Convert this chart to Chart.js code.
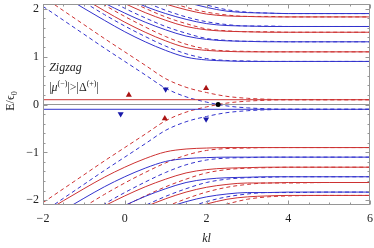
<!DOCTYPE html><html><head><meta charset="utf-8">
<script src="https://cdn.jsdelivr.net/npm/chart.js@4/dist/chart.umd.min.js"></script>
<style>html,body{margin:0;padding:0;background:#fff}canvas{display:block}</style>
</head><body><canvas id="c" width="374" height="248"></canvas>
<script>
// kl sample points shared by every branch
const kl=[-2,-1.5,-1,-0.5,0,0.5,1,1.5,2,2.5,3,3.5,4,5,6];
// upper (E>0) branches, red = spin up, blue = spin down
const upD0Red =[2.25,1.96,1.67,1.38,1.10,0.82,0.54,0.36,0.25,0.17,0.13,0.11,0.10,0.10,0.10];
const upD0Blue=[2.05,1.76,1.47,1.18,0.90,0.62,0.34,0.16,0.05,-0.03,-0.07,-0.09,-0.10,-0.10,-0.10];
const upS1Red =[2.74,2.47,2.21,1.96,1.72,1.51,1.33,1.19,1.13,1.11,1.10,1.10,1.10,1.10,1.10];
const upS1Blue=[2.54,2.27,2.01,1.76,1.52,1.31,1.13,0.99,0.93,0.91,0.90,0.90,0.90,0.90,0.90];
const upD1Red =[2.87,2.60,2.34,2.08,1.84,1.62,1.42,1.26,1.16,1.12,1.11,1.10,1.10,1.10,1.10];
const upD1Blue=[2.67,2.40,2.14,1.88,1.64,1.42,1.22,1.06,0.96,0.92,0.91,0.90,0.90,0.90,0.90];
const upS2Red =[3.04,2.79,2.55,2.32,2.11,1.92,1.76,1.63,1.56,1.53,1.52,1.51,1.51,1.51,1.51];
const upS2Blue=[2.84,2.59,2.35,2.12,1.91,1.72,1.56,1.43,1.36,1.33,1.32,1.31,1.31,1.31,1.31];
const upD2Red =[3.17,2.92,2.67,2.44,2.21,2.01,1.83,1.69,1.58,1.54,1.52,1.52,1.51,1.51,1.51];
const upD2Blue=[2.97,2.72,2.47,2.24,2.01,1.81,1.63,1.49,1.38,1.34,1.32,1.32,1.31,1.31,1.31];
const upS3Red =[3.33,3.09,2.86,2.64,2.44,2.25,2.10,1.98,1.89,1.85,1.84,1.83,1.83,1.83,1.83];
const upS3Blue=[3.13,2.89,2.66,2.44,2.24,2.05,1.90,1.78,1.69,1.65,1.64,1.63,1.63,1.63,1.63];
const upD3Red =[3.46,3.21,2.97,2.75,2.53,2.34,2.17,2.03,1.93,1.87,1.84,1.84,1.83,1.83,1.83];
const upD3Blue=[3.26,3.01,2.77,2.55,2.33,2.14,1.97,1.83,1.73,1.67,1.64,1.64,1.63,1.63,1.63];
const upS4Red =[3.72,3.48,3.25,3.04,2.83,2.64,2.48,2.34,2.23,2.15,2.12,2.11,2.10,2.10,2.10];
const upS4Blue=[3.52,3.28,3.05,2.84,2.63,2.44,2.28,2.14,2.03,1.95,1.92,1.91,1.90,1.90,1.90];
const upD4Red =[3.85,3.61,3.37,3.14,2.93,2.73,2.55,2.40,2.28,2.18,2.13,2.11,2.10,2.10,2.10];
const upD4Blue=[3.65,3.41,3.17,2.94,2.73,2.53,2.35,2.20,2.08,1.98,1.93,1.91,1.90,1.90,1.90];
// lower (E<0) branches
const loD0Red =[-2.05,-1.76,-1.47,-1.18,-0.90,-0.62,-0.34,-0.16,-0.05,0.03,0.07,0.09,0.10,0.10,0.10];
const loD0Blue=[-2.25,-1.96,-1.67,-1.38,-1.10,-0.82,-0.54,-0.36,-0.25,-0.17,-0.13,-0.11,-0.10,-0.10,-0.10];
const loS1Red =[-2.27,-2.01,-1.76,-1.52,-1.31,-1.13,-0.99,-0.93,-0.91,-0.90,-0.90,-0.90,-0.90,-0.90,-0.90];
const loS1Blue=[-2.47,-2.21,-1.96,-1.72,-1.51,-1.33,-1.19,-1.13,-1.11,-1.10,-1.10,-1.10,-1.10,-1.10,-1.10];
const loD1Red =[-2.67,-2.40,-2.14,-1.88,-1.64,-1.42,-1.22,-1.06,-0.96,-0.92,-0.91,-0.90,-0.90,-0.90,-0.90];
const loD1Blue=[-2.87,-2.60,-2.34,-2.08,-1.84,-1.62,-1.42,-1.26,-1.16,-1.12,-1.11,-1.10,-1.10,-1.10,-1.10];
const loS2Red =[-2.84,-2.59,-2.35,-2.12,-1.91,-1.72,-1.56,-1.43,-1.36,-1.33,-1.32,-1.31,-1.31,-1.31,-1.31];
const loS2Blue=[-3.04,-2.79,-2.55,-2.32,-2.11,-1.92,-1.76,-1.63,-1.56,-1.53,-1.52,-1.51,-1.51,-1.51,-1.51];
const loD2Red =[-3.11,-2.84,-2.59,-2.35,-2.12,-1.91,-1.72,-1.56,-1.43,-1.36,-1.33,-1.32,-1.31,-1.31,-1.31];
const loD2Blue=[-3.31,-3.04,-2.79,-2.55,-2.32,-2.11,-1.92,-1.76,-1.63,-1.56,-1.53,-1.52,-1.51,-1.51,-1.51];
const loS3Red =[-3.26,-3.01,-2.77,-2.55,-2.33,-2.14,-1.97,-1.83,-1.73,-1.67,-1.64,-1.64,-1.63,-1.63,-1.63];
const loS3Blue=[-3.46,-3.21,-2.97,-2.75,-2.53,-2.34,-2.17,-2.03,-1.93,-1.87,-1.84,-1.84,-1.83,-1.83,-1.83];
const loD3Red =[-3.51,-3.26,-3.01,-2.77,-2.55,-2.33,-2.14,-1.97,-1.83,-1.73,-1.67,-1.64,-1.64,-1.63,-1.63];
const loD3Blue=[-3.71,-3.46,-3.21,-2.97,-2.75,-2.53,-2.34,-2.17,-2.03,-1.93,-1.87,-1.84,-1.84,-1.83,-1.83];
const loS4Red =[-3.65,-3.41,-3.17,-2.94,-2.73,-2.53,-2.35,-2.20,-2.08,-1.98,-1.93,-1.91,-1.90,-1.90,-1.90];
const loS4Blue=[-3.85,-3.61,-3.37,-3.14,-2.93,-2.73,-2.55,-2.40,-2.28,-2.18,-2.13,-2.11,-2.10,-2.10,-2.10];
const loD4Red =[-3.90,-3.65,-3.41,-3.17,-2.94,-2.73,-2.53,-2.35,-2.20,-2.08,-1.98,-1.93,-1.91,-1.90,-1.90];
const loD4Blue=[-4.10,-3.85,-3.61,-3.37,-3.14,-2.93,-2.73,-2.55,-2.40,-2.28,-2.18,-2.13,-2.11,-2.10,-2.10];
// flat zero-energy modes and the E=0 axis
const flatK=[-2,6];
const flatRed=[0.1,0.1], flatBlue=[-0.1,-0.1], zeroLine=[0,0];
// spin arrows and crossing point
const upArrowK=[0.1,1.99,0.98], upArrowE=[0.2,0.34,-0.29];
const dnArrowK=[-0.1,1.0,1.99], dnArrowE=[-0.2,0.32,-0.31];
const dotK=[2.285], dotE=[0];
const yTicks=[-2,-1,0,1,2], xTicks=[-2,0,2,4,6];

const RED='rgb(205,50,50)',BLUE='rgb(50,50,205)';
const curves=[
 [upD0Red,RED,1],[upD0Blue,BLUE,1],[upS1Red,RED,0],[upS1Blue,BLUE,0],[upD1Red,RED,1],[upD1Blue,BLUE,1],
 [upS2Red,RED,0],[upS2Blue,BLUE,0],[upD2Red,RED,1],[upD2Blue,BLUE,1],[upS3Red,RED,0],[upS3Blue,BLUE,0],
 [upD3Red,RED,1],[upD3Blue,BLUE,1],[upS4Red,RED,0],[upS4Blue,BLUE,0],[upD4Red,RED,1],[upD4Blue,BLUE,1],
 [loD0Red,RED,1],[loD0Blue,BLUE,1],[loS1Red,RED,0],[loS1Blue,BLUE,0],[loD1Red,RED,1],[loD1Blue,BLUE,1],
 [loS2Red,RED,0],[loS2Blue,BLUE,0],[loD2Red,RED,1],[loD2Blue,BLUE,1],[loS3Red,RED,0],[loS3Blue,BLUE,0],
 [loD3Red,RED,1],[loD3Blue,BLUE,1],[loS4Red,RED,0],[loS4Blue,BLUE,0],[loD4Red,RED,1],[loD4Blue,BLUE,1]];
// Chart.js paints dataset 0 last (on top): markers first, axis line last
const ds=[];
ds.push({type:'scatter',data:dotK.map((k,i)=>({x:k,y:dotE[i]})),pointStyle:'circle',pointRadius:2.5,backgroundColor:'#000',borderColor:'#000',borderWidth:0,showLine:false});
ds.push({type:'scatter',data:upArrowK.map((k,i)=>({x:k,y:upArrowE[i]})),pointStyle:'triangle',pointRadius:3.5,backgroundColor:'rgb(170,20,20)',borderColor:'rgb(170,20,20)',borderWidth:0,showLine:false});
ds.push({type:'scatter',data:dnArrowK.map((k,i)=>({x:k,y:dnArrowE[i]})),pointStyle:'triangle',rotation:180,pointRadius:3.5,backgroundColor:'rgb(25,25,170)',borderColor:'rgb(25,25,170)',borderWidth:0,showLine:false});
ds.push({data:flatK.map((k,i)=>({x:k,y:flatRed[i]})),borderColor:RED,borderWidth:1,pointRadius:0});
ds.push({data:flatK.map((k,i)=>({x:k,y:flatBlue[i]})),borderColor:BLUE,borderWidth:1,pointRadius:0});
curves.forEach(c=>ds.push({data:kl.map((k,i)=>({x:k,y:c[0][i]})),borderColor:c[1],borderWidth:1,borderDash:c[2]?[4,3]:[],pointRadius:0,fill:false,cubicInterpolationMode:'monotone'}));
ds.push({data:flatK.map((k,i)=>({x:k,y:zeroLine[i]})),borderColor:'rgb(150,150,150)',borderWidth:1,pointRadius:0});

const SERIF="'Liberation Serif','DejaVu Serif',serif";
const framePlugin={id:'frame',afterDatasetsDraw(chart){
  const {ctx,chartArea:a,scales:{x,y}}=chart;ctx.save();
  ctx.strokeStyle='rgb(150,150,150)';ctx.lineWidth=1;
  const L=Math.round(a.left)+0.5,R=Math.round(a.right)-0.5,T=Math.round(a.top)+0.5,B=Math.round(a.bottom)-0.5;
  ctx.strokeRect(L,T,R-L,B-T);
  ctx.beginPath();
  for(let i=0;i<=16;i++){const v=-2+i*0.5;const p=Math.round(x.getPixelForValue(v))+0.5;const len=(i%4===0)?4:2;
    ctx.moveTo(p,B);ctx.lineTo(p,B-len);ctx.moveTo(p,T);ctx.lineTo(p,T+len);}
  for(let i=0;i<=20;i++){const v=-2+i*0.2;const p=Math.round(y.getPixelForValue(v))+0.5;const len=(i%5===0)?4:2;
    ctx.moveTo(L,p);ctx.lineTo(L+len,p);ctx.moveTo(R,p);ctx.lineTo(R-len,p);}
  ctx.stroke();
  ctx.fillStyle='#222';ctx.textBaseline='alphabetic';
  ctx.font='italic 12px '+SERIF;ctx.textAlign='center';ctx.fillText('kl',(a.left+a.right)/2,242);
  ctx.translate(14,101);ctx.rotate(-Math.PI/2);ctx.textAlign='left';
  ctx.font='12px '+SERIF;const t1='E/\u03F5';const w1=ctx.measureText(t1).width;
  ctx.fillText(t1,-(w1+4)/2,0);ctx.font='8px '+SERIF;ctx.fillText('0',-(w1+4)/2+w1,3);
  ctx.restore();
  ctx.save();ctx.fillStyle='#222';ctx.textAlign='left';
  const ax=x.getPixelForValue(-1.85);
  ctx.font='italic 12px '+SERIF;ctx.fillText('Zigzag',ax,y.getPixelForValue(0.7));
  let cx=ax;const by=y.getPixelForValue(0.28);
  function piece(s,f,dy){ctx.font=f;ctx.fillText(s,cx,by+dy);cx+=ctx.measureText(s).width;}
  piece('|','12px '+SERIF,0);piece('\u03BC','italic 12px '+SERIF,0);piece('(\u2212)','8px '+SERIF,-5);
  piece('|>|\u0394','12px '+SERIF,0);piece('(+)','8px '+SERIF,-5);piece('|','12px '+SERIF,0);
  ctx.restore();
}};
const fmt=v=>(v<0?'\u2212':'')+Math.abs(v);
new Chart(document.getElementById('c'),{type:'line',data:{datasets:ds},options:{responsive:false,animation:false,plugins:{legend:{display:false},tooltip:{enabled:false}},
layout:{padding:{left:0,right:3,top:3,bottom:0}},
scales:{x:{type:'linear',min:-2,max:6,grid:{display:false,drawTicks:false},border:{display:false},
  afterBuildTicks:s=>{s.ticks=xTicks.map(v=>({value:v}));},
  ticks:{padding:7,color:'#222',font:{family:SERIF,size:12},callback:fmt},afterFit:s=>{s.height=43;s.paddingLeft=0;s.paddingRight=0;}},
y:{min:-2.1,max:2.1,grid:{display:false,drawTicks:false},border:{display:false},
  afterBuildTicks:s=>{s.ticks=yTicks.map(v=>({value:v}));},
  ticks:{padding:4,color:'#222',font:{family:SERIF,size:12},callback:fmt},afterFit:s=>{s.width=43;s.paddingTop=0;s.paddingBottom=0;}}}},plugins:[framePlugin]});
</script></body></html>
